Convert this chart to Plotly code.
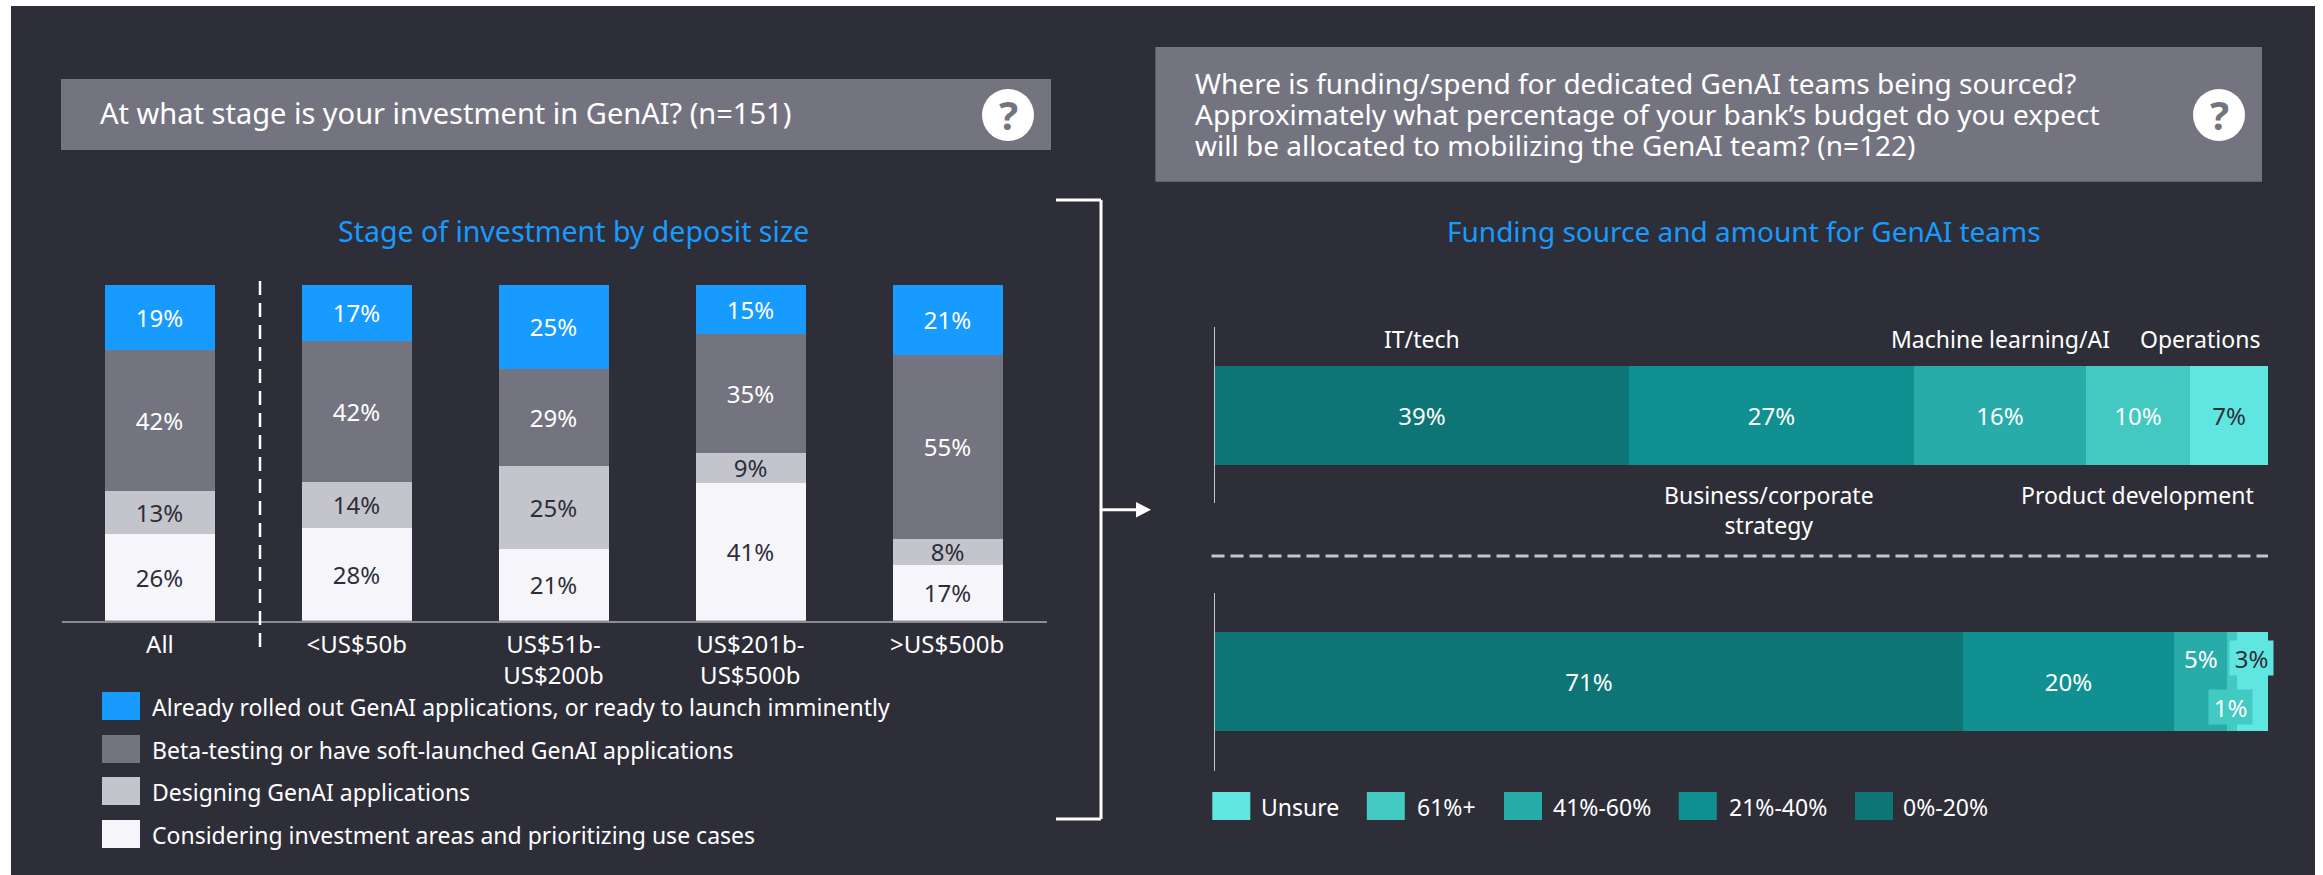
import plotly.graph_objects as go

W, H = 2323, 875
BG = "#2e2e38"
FONT = "Noto Sans"
LABEL = 24
NAME = 23
TICK = 24

# ---- data ----
deposit_labels = ["All", "<US$50b", "US$51b-<br>US$200b", "US$201b-<br>US$500b", ">US$500b"]
stage_names = ["Considering investment areas and prioritizing use cases", "Designing GenAI applications",
               "Beta-testing or have soft-launched GenAI applications",
               "Already rolled out GenAI applications, or ready to launch imminently"]
considering = [26.0, 27.6, 21.4, 41.1, 16.8]
designing = [12.6, 13.9, 24.9, 8.9, 7.6]
beta = [42.2, 41.9, 28.8, 35.3, 54.8]
rolled_out = [19.2, 16.6, 24.9, 14.7, 20.8]
stage_colors = ["#f6f6fa", "#c4c4cd", "#747480", "#189bff"]
stage_text = ["#2e2e38", "#2e2e38", "#ffffff", "#ffffff"]

source_names = ["IT/tech", "Business/corporate<br>strategy", "Machine learning/AI", "Product development", "Operations"]
source_share = [39.3, 27.1, 16.3, 9.9, 7.4]
budget_names = ["0%-20%", "21%-40%", "41%-60%", "61%+", "Unsure"]
budget_share = [71.0, 20.1, 5.0, 1.0, 2.9]
teal_colors = ["#0d7575", "#109090", "#27acaa", "#42c9c2", "#60e6e1"]
teal_text = ["#ffffff", "#ffffff", "#ffffff", "#ffffff", "#2e2e38"]


def px(x):
    return x / W


def py(y):
    return 1 - y / H


fig = go.Figure()

# ---- stacked columns ----
for vals, name, col, tc in zip([considering, designing, beta, rolled_out], stage_names, stage_colors, stage_text):
    fig.add_trace(go.Bar(x=deposit_labels, y=vals, name=name, marker=dict(color=col, line=dict(width=0)),
                         width=0.558, text=[f"{v:.0f}%" for v in vals], textposition="inside",
                         insidetextanchor="middle", textangle=0, constraintext="none",
                         textfont=dict(family=FONT, size=LABEL, color=tc), xaxis="x", yaxis="y", showlegend=False))

# ---- horizontal bars ----
for i, (name, val) in enumerate(zip(budget_names, source_share)):
    fig.add_trace(go.Bar(y=["Source"], x=[val], orientation="h", name=name, width=0.56,
                         marker=dict(color=teal_colors[i], line=dict(width=0)),
                         text=[f"{val:.0f}%"], textposition="inside", insidetextanchor="middle", textangle=0,
                         constraintext="none",
                         textfont=dict(family=FONT, size=LABEL, color=teal_text[i]),
                         xaxis="x2", yaxis="y2", showlegend=False))
for i, (name, val) in enumerate(zip(budget_names, budget_share)):
    lab = [f"{val:.0f}%"] if val > 6 else [""]
    fig.add_trace(go.Bar(y=["Budget"], x=[val], orientation="h", name=name, width=0.56,
                         marker=dict(color=teal_colors[i], line=dict(width=0)),
                         text=lab, textposition="inside", insidetextanchor="middle", textangle=0,
                         constraintext="none",
                         textfont=dict(family=FONT, size=LABEL, color=teal_text[i]),
                         xaxis="x3", yaxis="y3", showlegend=False))

fig.update_layout(
    width=W, height=H, margin=dict(l=0, r=0, t=0, b=0), barmode="stack", paper_bgcolor=BG, plot_bgcolor="rgba(0,0,0,0)",
    bargap=0, font=dict(family=FONT, color="#ffffff"),
    xaxis=dict(domain=[px(61.5), px(1046.5)], anchor="y", type="category", range=[-0.5, 4.505], showgrid=False,
               linecolor="#8b8b95", linewidth=2, ticks="outside", ticklen=1, tickcolor="rgba(0,0,0,0)",
               tickfont=dict(family=FONT, size=TICK, color="#ffffff"), zeroline=False),
    yaxis=dict(domain=[py(620.7), py(284.5)], anchor="x", range=[0, 100], visible=False),
    xaxis2=dict(domain=[px(1215), px(2268)], anchor="y2", range=[0, 100], visible=False),
    yaxis2=dict(domain=[py(503), py(326.7)], anchor="x2", type="category", showticklabels=False, ticks="",
                showgrid=False, zeroline=False, showline=True, linecolor="#c4c4cd", linewidth=1),
    xaxis3=dict(domain=[px(1215), px(2268)], anchor="y3", range=[0, 100], visible=False),
    yaxis3=dict(domain=[py(770.7), py(593.3)], anchor="x3", type="category", showticklabels=False, ticks="",
                showgrid=False, zeroline=False, showline=True, linecolor="#c4c4cd", linewidth=1),
)


def rect(x0, y0, x1, y1, color):
    fig.add_shape(type="rect", xref="paper", yref="paper", x0=px(x0), x1=px(x1), y0=py(y1), y1=py(y0),
                  fillcolor=color, line=dict(width=0), layer="below")


def line(x0, y0, x1, y1, color="#ffffff", width=3, dash="solid", layer="above"):
    fig.add_shape(type="line", xref="paper", yref="paper", x0=px(x0), x1=px(x1), y0=py(y0), y1=py(y1),
                  line=dict(color=color, width=width, dash=dash), layer=layer)


def text(x, y, s, size=22, color="#ffffff", anchor="left", **kw):
    fig.add_annotation(xref="paper", yref="paper", x=px(x), y=py(y), text=s, showarrow=False, xanchor=anchor,
                       yanchor="middle", align=anchor if anchor != "middle" else "center",
                       font=dict(family=FONT, size=size, color=color), **kw)


# white page edges round the panel
rect(0, 0, W, 6, "#ffffff")
rect(0, 0, 11, H, "#ffffff")
rect(2315, 0, W, H, "#ffffff")

# header boxes
rect(61, 79, 1051, 150, "#747480")
rect(1155.4, 47, 2262, 181.7, "#747480")
for cx in (1008, 2219):
    fig.add_shape(type="circle", xref="paper", yref="paper", x0=px(cx - 26), x1=px(cx + 26), y0=py(141), y1=py(89),
                  fillcolor="#ffffff", line=dict(width=0))
    text(cx, 114, "<b>?</b>", size=40, color="#747480", anchor="center")

text(98, 113, "At what stage is your investment in GenAI? (n=151)", size=29)
for yy, s in zip((82.7, 114, 145.3), ("Where is funding/spend for dedicated GenAI teams being sourced?",
                                      "Approximately what percentage of your bank’s budget do you expect",
                                      "will be allocated to mobilizing the GenAI team? (n=122)")):
    text(1193, yy, s, size=28)

text(573, 231, "Stage of investment by deposit size", size=28.5, color="#189bff", anchor="center")
text(1744, 231, "Funding source and amount for GenAI teams", size=28, color="#189bff", anchor="center")

# divider, bracket, arrow
line(260, 281, 260, 647, dash="14px,8px", width=2.5)
line(1056, 200, 1101, 200)
line(1101, 200, 1101, 819)
line(1056, 819, 1101, 819)
line(1101, 509.7, 1138, 509.7)
fig.add_shape(type="path", xref="paper", yref="paper",
              path=f"M {px(1136)} {py(502)} L {px(1151)} {py(509.7)} L {px(1136)} {py(517.5)} Z",
              fillcolor="#ffffff", line=dict(width=0))
line(1211.5, 556, 2268, 556, color="#c4c4cd", width=3, dash="13px,6px")

# category names attached to the segments of the first bar
cum = 0
centres = []
for v in source_share:
    centres.append(cum + v / 2)
    cum += v
for name, c, yy, shift in zip(source_names, centres, (339, 509.5, 339, 495, 339), (0, -3, 0, 0, -29)):
    fig.add_annotation(xref="x2", yref="paper", x=c, y=py(yy), xshift=shift, text=name, showarrow=False,
                       xanchor="center", yanchor="middle", align="center",
                       font=dict(family=FONT, size=NAME, color="#ffffff"))

# small-segment labels on the second bar, moved off the bar's mid-line so they stay legible
fig.add_annotation(xref="x3", yref="paper", x=sum(budget_share[:2]) + budget_share[2] / 2, y=py(658),
                   text=f"{budget_share[2]:.0f}%", showarrow=False, xanchor="center", yanchor="middle",
                   font=dict(family=FONT, size=LABEL, color="#ffffff"))
fig.add_annotation(xref="paper", yref="paper", x=px(2251.5), y=py(658), text=f"{budget_share[4]:.0f}%", showarrow=False,
                   xanchor="center", yanchor="middle", width=41, height=32,
                   bgcolor=teal_colors[4], font=dict(family=FONT, size=LABEL, color="#2e2e38"))
fig.add_annotation(xref="paper", yref="paper", x=px(2230.5), y=py(707), text=f"{budget_share[3]:.0f}%", showarrow=False,
                   xanchor="center", yanchor="middle", width=41, height=32,
                   bgcolor=teal_colors[3], font=dict(family=FONT, size=LABEL, color="#ffffff"))

# legends
for i, (yy) in enumerate((692, 735, 777, 820)):
    j = 3 - i
    rect(102, yy, 140, yy + 28, stage_colors[j])
    text(150, yy + 15, stage_names[j], size=23)

sw = [1212.3, 1366.8, 1504, 1678.8, 1855]
tx = [1259, 1415, 1551, 1727, 1901]
for x0, t, name, col in zip(sw, tx, budget_names[::-1], teal_colors[::-1]):
    rect(x0, 792, x0 + 38, 820, col)
    text(t, 807, name, size=23)

fig.write_html("out.html", config=dict(displayModeBar=False),
               post_script="document.body.style.margin='0';document.body.style.overflow='hidden';")
